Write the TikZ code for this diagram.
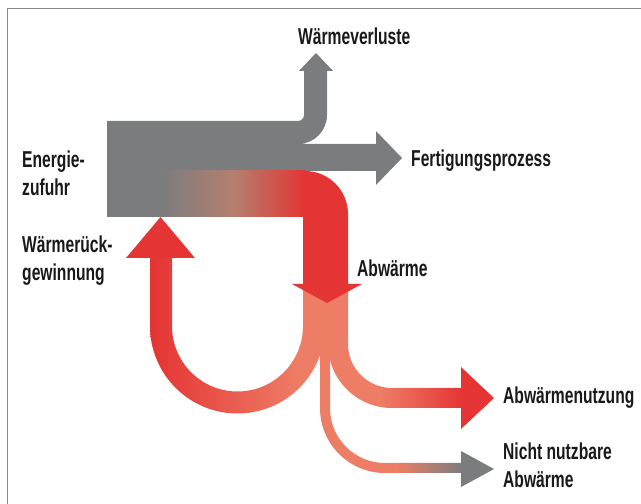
\documentclass[tikz,border=0pt]{standalone}
\usepackage{fontspec}
\setmainfont{Liberation Sans}[FakeStretch=0.68]
\definecolor{grey}{HTML}{7B7C7E}
\definecolor{rd}{HTML}{E43434}
\definecolor{salm}{HTML}{EE7D66}
\definecolor{tanmid}{HTML}{B47F6F}
\definecolor{framec}{HTML}{8A8A8A}
\begin{document}
\begin{tikzpicture}[x=1pt,y=1pt,
  lbl/.style={anchor=base west, inner sep=0pt, font=\fontsize{23}{28}\selectfont\bfseries, text=black!90}]
\useasboundingbox (0,0) rectangle (641,504);
\draw[line width=1.5pt, framec] (7.5,0) -- (7.5,495.5) -- (641,495.5);

% grey upper band with two outputs
\fill[grey] (107,333) -- (376,333) -- (376,319) -- (402,346) -- (376,373) -- (376,360)
  -- (298,360) arc[start angle=270,end angle=360,radius=29]
  -- (327,433) -- (333,433) -- (316,451) -- (299,433) -- (304,433)
  -- (304,389) arc[start angle=0,end angle=-90,radius=6]
  -- (107,383) -- cycle;

% salmon stem
\fill[salm] (303,170) rectangle (348,222);

% U back to input (Waermerueckgewinnung)
\begin{scope}
\clip (150,246) -- (150,178) arc[start angle=180,end angle=360,radius=87.5]
  -- (325,222) -- (303,222) -- (303,178) arc[start angle=0,end angle=-180,radius=65.5]
  -- (172,246) -- cycle;
\shade[left color=rd, right color=salm] (150,80) rectangle (300,250);
\fill[salm] (299,80) rectangle (330,250);
\end{scope}

% right branch (Abwaermenutzung)
\begin{scope}
\clip (328,222) -- (328,160) arc[start angle=180,end angle=270,radius=64]
  -- (462,96) -- (462,116) -- (392,116) arc[start angle=270,end angle=180,radius=44]
  -- (348,222) -- cycle;
\fill[salm] (320,80) rectangle (381,225);
\shade[left color=salm, right color=rd] (380,80) rectangle (463,225);
\end{scope}
\fill[rd] (461,137) -- (494,106) -- (461,75) -- cycle;

% thin branch (nicht nutzbare Abwaerme)
\begin{scope}
\clip (320,222) -- (320,96) arc[start angle=180,end angle=270,radius=65]
  -- (462,31) -- (462,41) -- (385,41) arc[start angle=270,end angle=180,radius=55]
  -- (330,222) -- cycle;
\fill[salm] (315,20) rectangle (396,225);
\shade[left color=salm, right color=grey] (395,20) rectangle (463,225);
\end{scope}
\fill[grey] (461,53) -- (494,35) -- (461,17) -- cycle;

% lower band: grey -> red, turning down
\fill[grey] (107,287) rectangle (161,333);
\shade[left color=grey, right color=rd, middle color=tanmid] (160,287) rectangle (306,333);
\fill[rd] (305,287) -- (305,333) arc[start angle=90,end angle=0,radius=43]
  -- (348,220) -- (303,220) -- (303,287) -- cycle;
\fill[rd] (292,220) -- (362,220) -- (327,201) -- cycle;

% up arrow head
\fill[rd] (126,246) -- (195,246) -- (160.5,287) -- cycle;

% labels
\node[lbl] (wv) at (298,459) {Wärmeverluste};
\node[lbl] (fp) at (411,337) {Fertigungsprozess};
\node[lbl] (en1) at (22,336) {Energie-};
\node[lbl] (en2) at (22,308) {zufuhr};
\node[lbl] (wr1) at (22,251) {Wärmerück-};
\node[lbl] (wr2) at (22,223) {gewinnung};
\node[lbl] (aw) at (357,227) {Abwärme};
\node[lbl] (an) at (503,100) {Abwärmenutzung};
\node[lbl] (nn1) at (503,44) {Nicht nutzbare};
\node[lbl] (nn2) at (503,16) {Abwärme};
\end{tikzpicture}
\end{document}
